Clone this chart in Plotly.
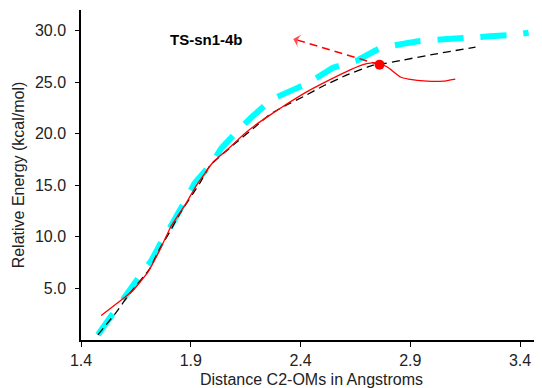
import plotly.graph_objects as go

# Cyan thick dashed curve
cyan_x = [1.477, 1.545, 1.659, 1.720, 1.774, 1.819, 1.880, 1.918, 1.995, 2.040, 2.124, 2.177, 2.268, 2.443, 2.548, 2.657, 2.763, 2.945, 3.159, 3.370, 3.439]
cyan_y = [0.5, 2.54, 5.94, 7.7, 9.8, 11.4, 13.7, 15.2, 17.1, 18.6, 20.5, 21.6, 23.3, 25.0, 26.4, 27.1, 28.3, 29.0, 29.3, 29.6, 29.8]

# Black dashed curve
black_x = [1.477, 1.561, 1.621, 1.713, 1.758, 1.804, 1.850, 1.941, 1.987, 2.093, 2.184, 2.261, 2.337, 2.413, 2.510, 2.611, 2.731, 2.758, 2.855, 3.005, 3.197]
black_y = [0.5, 2.7, 4.49, 6.9, 8.85, 10.47, 12.25, 15.2, 16.9, 18.9, 20.5, 21.9, 22.8, 23.6, 24.7, 25.7, 26.65, 26.7, 27.1, 27.7, 28.4]

# Red solid curve
red_x = [1.492, 1.591, 1.637, 1.705, 1.758, 1.812, 1.880, 1.926, 2.002, 2.063, 2.154, 2.215, 2.306, 2.428, 2.530, 2.626, 2.702, 2.748, 2.794, 2.855, 2.892, 2.976, 3.052, 3.105]
red_y = [2.38, 4.0, 4.8, 6.58, 8.69, 11.1, 13.3, 15.0, 17.26, 18.4, 20.17, 21.15, 22.45, 24.06, 25.2, 26.2, 26.8, 26.9, 26.5, 25.5, 25.3, 25.1, 25.1, 25.3]

# Transition-state point and dashed arrow
ts_x = [2.76]
ts_y = [26.7]
arrow_x = [2.76, 2.367]
arrow_y = [26.7, 29.2]

x_ticks = [1.4, 1.9, 2.4, 2.9, 3.4]
y_ticks = [5, 10, 15, 20, 25, 30]
label_text = "TS-sn1-4b"
label_pos = (1.973, 29.1)

FONT = "Liberation Sans, Arial, sans-serif"

fig = go.Figure()
fig.add_trace(go.Scatter(x=cyan_x, y=cyan_y, mode="lines",
                         line=dict(color="#00FFFF", width=6, dash="26px,17px", shape="spline", smoothing=0.3)))
fig.add_trace(go.Scatter(x=black_x, y=black_y, mode="lines",
                         line=dict(color="black", width=1.3, dash="8px,5px", shape="spline", smoothing=0.3)))
fig.add_trace(go.Scatter(x=red_x, y=red_y, mode="lines",
                         line=dict(color="#FF0000", width=1.3, shape="spline", smoothing=0.3)))
fig.add_trace(go.Scatter(x=arrow_x, y=arrow_y, mode="lines+markers",
                         line=dict(color="#FF0000", width=1.5, dash="8px,5px"),
                         marker=dict(symbol="arrow-wide", size=[0, 11], angleref="previous",
                                     color="#FF0000", line=dict(width=0))))
fig.add_trace(go.Scatter(x=ts_x, y=ts_y, mode="markers",
                         marker=dict(symbol="circle", size=10, color="#FF0000")))

fig.add_annotation(x=label_pos[0], y=label_pos[1], text="<b>" + label_text + "</b>", showarrow=False,
                   font=dict(size=15, color="black", family=FONT), xanchor="center")

# page body has an 8px default margin, so the figure is sized to fit inside
fig.update_layout(
    width=534, height=380,
    margin=dict(l=73, r=0, t=2, b=48, autoexpand=False),
    paper_bgcolor="white", plot_bgcolor="white",
    showlegend=False,
    font=dict(family=FONT, size=16, color="#222"),
)
fig.update_xaxes(range=[1.4, 3.5], tickvals=x_ticks, ticktext=[f"{v:.1f}" for v in x_ticks],
                 showgrid=False, zeroline=False, showline=True, linecolor="black", linewidth=1.5,
                 ticks="outside", ticklen=5, tickcolor="black", automargin=False,
                 title=dict(text="Distance C2-OMs in Angstroms", standoff=6, font=dict(size=16)))
fig.update_yaxes(range=[0, 32], tickvals=y_ticks, ticktext=[f"{v:.1f}" for v in y_ticks],
                 showgrid=False, zeroline=False, showline=True, linecolor="black", linewidth=1.5,
                 ticks="outside", ticklen=4, tickcolor="black", ticklabelstandoff=6, automargin=False,
                 title=dict(text="Relative Energy (kcal/mol)", standoff=6, font=dict(size=16)))

fig.write_html("out.html")
